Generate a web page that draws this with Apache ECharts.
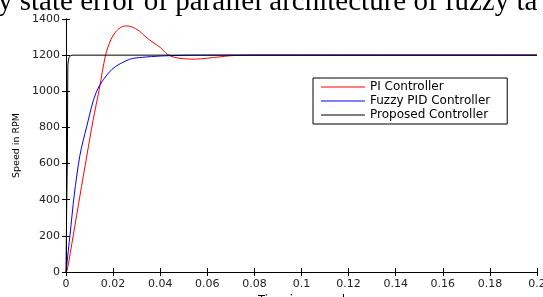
<!DOCTYPE html>
<html><head><meta charset="utf-8">
<script src="https://cdn.jsdelivr.net/npm/echarts@6/dist/echarts.min.js"></script>
<style>html,body{margin:0;padding:0;background:#fff;}#c{width:543px;height:297px;}</style>
</head><body><div id="c"></div>
<script>
const xTicks = [0, 0.02, 0.04, 0.06, 0.08, 0.1, 0.12, 0.14, 0.16, 0.18, 0.2];
const yTicks = [0, 200, 400, 600, 800, 1000, 1200, 1400];
const seriesNames = ['PI Controller', 'Fuzzy PID Controller', 'Proposed Controller'];
const piTime  = [0, 0.0005, 0.0031, 0.0059, 0.0088, 0.0115, 0.0141, 0.0168, 0.0191, 0.0215, 0.0235, 0.0256, 0.028, 0.031, 0.034, 0.037, 0.04, 0.043, 0.046, 0.05, 0.055, 0.06, 0.065, 0.07, 0.08, 0.1, 0.2];
const piSpeed = [0, 9, 204, 420, 640, 840, 1010, 1200, 1287, 1335, 1355, 1362, 1356, 1335, 1300, 1270, 1243, 1205, 1188, 1180, 1178, 1183, 1190, 1197, 1200, 1200, 1200];
const fuzzyTime  = [0, 0.0003, 0.0017, 0.0035, 0.0059, 0.0088, 0.013, 0.0194, 0.027, 0.0326, 0.04, 0.05, 0.06, 0.2];
const fuzzySpeed = [0, 37, 204, 426, 645, 805, 1000, 1120, 1177, 1188, 1195, 1199, 1200, 1200];
const propTime  = [0, 0.0003, 0.0006, 0.0007, 0.0008, 0.0012, 0.002, 0.003, 0.2];
const propSpeed = [0, 370, 650, 1000, 1150, 1185, 1198, 1200, 1200];

const pair = (t, v) => t.map((x, i) => [x, v[i]]);
const font = 'DejaVu Sans';
const chart = echarts.init(document.getElementById('c'), null, {renderer: 'canvas'});
const axisCommon = {
  axisLine: {show: true, lineStyle: {color: '#000', width: 1}},
  axisTick: {show: true, inside: true, length: 4, lineStyle: {color: '#000'}},
  splitLine: {show: false}
};
chart.setOption({
  animation: false,
  backgroundColor: '#fff',
  grid: {left: 66, right: 6, top: 19, bottom: 25, containLabel: false, outerBoundsMode: 'none'},
  graphic: [{
    type: 'text', x: -2, y: 2,
    style: {text: 'y state error of parallel architecture of fuzzy ta', font: '29px "Liberation Serif"', fill: '#000', verticalAlign: 'middle'}
  }],
  legend: {
    orient: 'vertical', left: 313, top: 78,
    data: seriesNames, icon: 'rect', itemWidth: 44, itemHeight: 1, itemGap: 2,
    padding: [3, 17, 3, 8], borderColor: '#000', borderWidth: 1, backgroundColor: '#fff',
    textStyle: {fontFamily: font, fontSize: 12, color: '#000', lineHeight: 12}
  },
  xAxis: [
    Object.assign({type: 'value', min: xTicks[0], max: xTicks[xTicks.length - 1], interval: 0.02,
      name: 'Time in second', nameLocation: 'middle', nameGap: 20,
      nameTextStyle: {fontFamily: font, fontSize: 11.5, color: '#000', verticalAlign: 'top'},
      axisLabel: {fontFamily: font, fontSize: 11, color: '#222', margin: 7, showMaxLabel: true,
        formatter: v => String(+v.toFixed(2))}}, axisCommon),
    Object.assign({type: 'value', position: 'top', min: xTicks[0], max: xTicks[xTicks.length - 1], interval: 0.02,
      axisLabel: {show: false}}, axisCommon)
  ],
  yAxis: [
    Object.assign({type: 'value', min: yTicks[0], max: yTicks[yTicks.length - 1], interval: 200,
      name: 'Speed in RPM', nameLocation: 'middle', nameGap: 44,
      nameTextStyle: {fontFamily: font, fontSize: 9.5, color: '#000'},
      axisLabel: {fontFamily: font, fontSize: 11, color: '#222', margin: 6, formatter: v => String(v)}}, axisCommon),
    Object.assign({type: 'value', position: 'right', min: yTicks[0], max: yTicks[yTicks.length - 1], interval: 200,
      axisLabel: {show: false}}, axisCommon)
  ],
  series: [
    {name: seriesNames[0], type: 'line', data: pair(piTime, piSpeed), showSymbol: false, smooth: 0.3,
      color: '#ff0000', lineStyle: {width: 1, color: '#ff0000'}},
    {name: seriesNames[1], type: 'line', data: pair(fuzzyTime, fuzzySpeed), showSymbol: false, smooth: 0.3,
      color: '#0000ff', lineStyle: {width: 1, color: '#0000ff'}},
    {name: seriesNames[2], type: 'line', data: pair(propTime, propSpeed), showSymbol: false,
      color: '#000000', lineStyle: {width: 1, color: '#000000'}}
  ]
});
</script></body></html>
